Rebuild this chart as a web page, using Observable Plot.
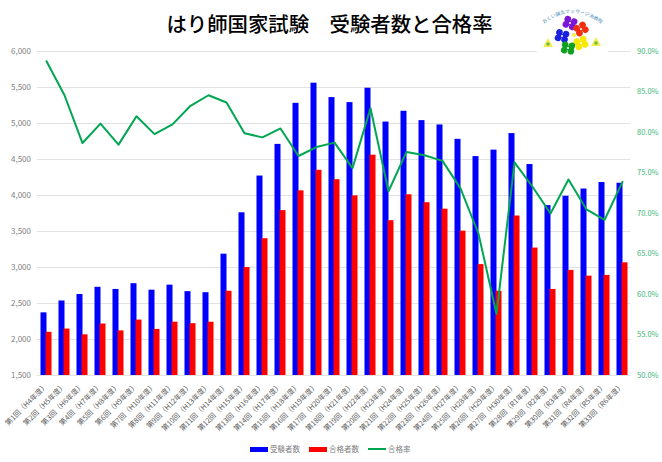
<!DOCTYPE html>
<html><head><meta charset="utf-8">
<script src="https://cdn.jsdelivr.net/npm/d3@7"></script>
<script src="https://cdn.jsdelivr.net/npm/@observablehq/plot@0.6"></script>
<style>
html,body{margin:0;padding:0;background:#fff;width:662px;height:462px;overflow:hidden;font-family:"Noto Sans CJK JP",sans-serif}
#wrap{position:relative;width:662px;height:462px}
#title{position:absolute;left:0;top:8px;width:659px;text-align:center;font-size:20.4px;font-weight:500;line-height:30px;color:#000;white-space:pre}
#chart{position:absolute;left:0;top:0}
#legend{position:absolute;top:442px;left:250px;display:flex;align-items:center;font-size:7.5px;color:#7f7f7f;line-height:14px}
#legend i{display:inline-block;width:18px;margin-right:2px}
#legend span{margin-right:9px}
#logo{position:absolute;left:537px;top:3px}
</style></head><body>
<div id="wrap"><div id="chart"></div><div id="title">はり師国家試験　受験者数と合格率</div>
<svg id="logo" width="71" height="53" viewBox="0 -6 71 53">
<rect y="-6" width="71" height="53" fill="#fff"/>
<path id="arc" d="M3 18 Q35 -10 68 18" fill="none"/>
<text font-size="4.8" fill="#4a8fb5"><textPath href="#arc" startOffset="50%" text-anchor="middle">おくい鍼灸マッサージ治療院</textPath></text>
<g id="fl"></g></svg>
<div id="legend"><i style="height:5px;background:#0000ff"></i><span>受験者数</span><i style="height:5px;background:#ff0000"></i><span>合格者数</span><i style="height:2px;background:#00a651"></i><span>合格率</span></div></div>
<script>
const rounds=["H4","H5","H6","H7","H8","H9","H10","H11","H12","H13","H14","H15","H16","H17","H18","H19","H20","H21","H22","H23","H24","H25","H26","H27","H28","H29","H30","R1","R2","R3","R4","R5","R6"];
const categories=rounds.map((r,i)=>`第${i+1}回（${r}年度）`);
const examinees=[2370,2535,2625,2725,2695,2775,2685,2755,2665,2650,3185,3760,4270,4710,5280,5560,5360,5290,5490,5020,5170,5040,4980,4780,4540,4630,4860,4430,3860,3990,4090,4180,4170];
const passers=[2100,2145,2065,2215,2120,2270,2140,2240,2220,2240,2670,3000,3400,3790,4065,4350,4220,3995,4560,3650,4010,3900,3810,3505,3040,2670,3715,3270,2695,2960,2880,2890,3065];
const passRate=[88.8,84.6,78.7,81.1,78.5,82,79.8,81,83.3,84.6,83.7,79.9,79.4,80.5,77.1,78.2,78.75,75.6,83,72.75,77.6,77.2,76.5,73.1,67.5,57.6,76.3,73.3,70,74.2,70.5,69.2,73.9];
const countTicks=[1500,2000,2500,3000,3500,4000,4500,5000,5500,6000];
const rateTicks=[50,55,60,65,70,75,80,85,90];
const toCount=p=>1500+(p-50)*4500/40;
const gray="#7f7f7f",green="#3cb878";
const rows=categories.map((c,i)=>({c,a:examinees[i],b:passers[i],r:toCount(passRate[i])}));
const chart=Plot.plot({
  width:662,height:462,marginTop:51,marginBottom:87,marginLeft:36.5,marginRight:31.5,
  style:{background:"transparent",fontFamily:'"Noto Sans CJK JP",sans-serif'},
  x:{type:"band",domain:categories,padding:0,label:null},
  y:{domain:[1500,6000],label:null},
  marks:[
    Plot.ruleY(countTicks,{stroke:"#e2e2e2",strokeWidth:1}),
    Plot.axisY({ticks:countTicks,tickSize:0,tickPadding:6,tickFormat:d3.format(","),fontSize:8,fill:gray,label:null}),
    Plot.axisY({anchor:"right",ticks:rateTicks.map(toCount),tickSize:0,tickPadding:6,tickFormat:v=>((v-1500)*40/4500+50).toFixed(1)+"%",fontSize:7.5,fill:green,label:null}),
    Plot.axisX({tickSize:0,tickPadding:9,tickRotate:-45,fontSize:7.2,fill:"#595959",label:null}),
    Plot.barY(rows,{x:"c",y1:()=>1500,y2:"a",fill:"#0000ff",insetLeft:3.5,insetRight:8.5}),
    Plot.barY(rows,{x:"c",y1:()=>1500,y2:"b",fill:"#ff0000",insetLeft:8.5,insetRight:3.5}),
    Plot.line(rows,{x:"c",y:"r",stroke:"#00a651",strokeWidth:2,strokeLinejoin:"round"})
  ]
});
document.getElementById("chart").append(chart);
const fl=[[33,14,"#7a16d8",20],[44,20,"#f03010",-30],[25,27,"#1a20e0",15],[44,34,"#f8e800",-20],[31,39,"#10a020",10]];
let s="";
for(const [x,y,c,a] of fl){s+=`<g transform="translate(${x} ${y}) rotate(${a})">`;for(const [dx,dy] of [[-3.4,-2.8],[3.4,-2.8],[-3.4,2.8],[3.4,2.8]])s+=`<circle cx="${dx}" cy="${dy}" r="3.3" fill="${c}"/>`;s+=`<circle r="2" fill="${c}"/><circle r="1" fill="#fff"/></g>`}
for(const [x,y] of [[11,34],[59,33]])s+=`<path d="M${x-5} ${y+4} L${x} ${y-5} L${x+5} ${y+4} Z" fill="#f2ee50"/><circle cx="${x}" cy="${y+1}" r="1.8" fill="#70c040"/>`;
s+=`<circle cx="37" cy="26" r="2" fill="#f2ee50"/>`;
document.getElementById("fl").innerHTML=s;
</script></body></html>
